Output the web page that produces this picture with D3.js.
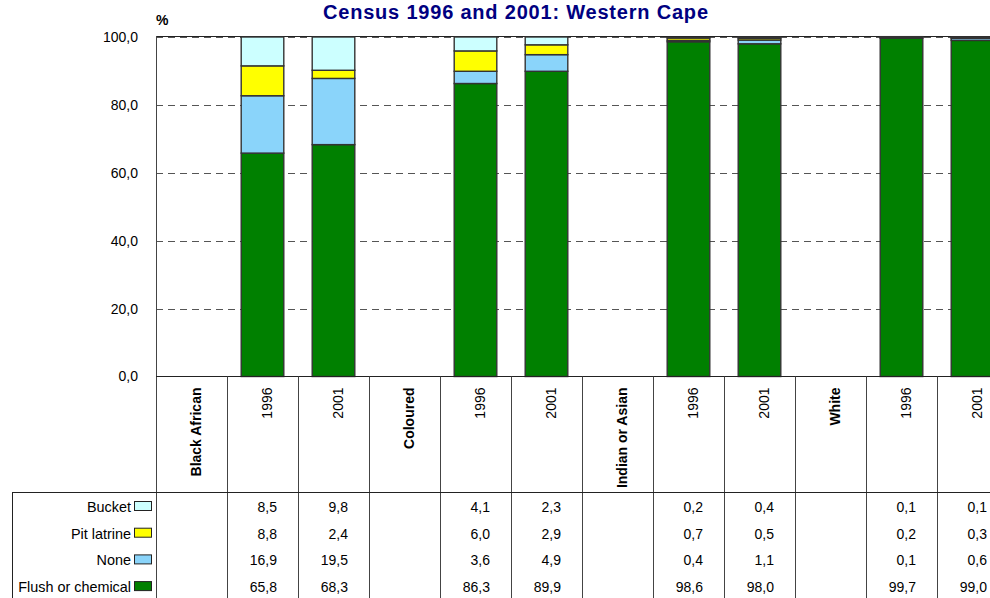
<!DOCTYPE html>
<html>
<head>
<meta charset="utf-8">
<script src="https://cdn.jsdelivr.net/npm/d3@7"></script>
<style>
  html, body { margin: 0; padding: 0; background: #fff; overflow: hidden; }
  svg { display: block; font-family: "Liberation Sans", Arial, sans-serif; }
</style>
</head>
<body>
<svg id="chart" width="990" height="598"></svg>
<script>
// ---- data ----
const categories = ["Black African", "1996", "2001", "Coloured", "1996", "2001",
                    "Indian or Asian", "1996", "2001", "White", "1996", "2001"];
const groupColumn = [true, false, false, true, false, false, true, false, false, true, false, false];
const seriesNames = ["Bucket", "Pit latrine", "None", "Flush or chemical"];
const seriesKeys = ["bucket", "pit", "none", "flush"];
const seriesColors = ["#CCFFFF", "#FFFF00", "#8AD4FA", "#008000"];
const bucket = [null, 8.5, 9.8, null, 4.1, 2.3, null, 0.2, 0.4, null, 0.1, 0.1];
const pit    = [null, 8.8, 2.4, null, 6.0, 2.9, null, 0.7, 0.5, null, 0.2, 0.3];
const none   = [null, 16.9, 19.5, null, 3.6, 4.9, null, 0.4, 1.1, null, 0.1, 0.6];
const flush  = [null, 65.8, 68.3, null, 86.3, 89.9, null, 98.6, 98.0, null, 99.7, 99.0];
const yTicks = [0, 20, 40, 60, 80, 100];
const title = "Census 1996 and 2001: Western Cape";

const valuesByKey = { bucket, pit, none, flush };

// ---- layout ----
const svg = d3.select("#chart");
const plotLeft = 156, colW = 71;
const plotTop = 37, plotBottom = 376.5;
const tableTop = 492;
const rowBaseline0 = 512, rowPitch = 26.7;
const fmt = v => d3.format(".1f")(v).replace(".", ",");

const idx = d3.range(categories.length);
const x = d3.scaleBand().domain(idx).range([plotLeft, plotLeft + colW * categories.length]).padding(0);
const y = d3.scaleLinear().domain([0, 100]).range([plotBottom, plotTop]);
const barW = x.bandwidth() * 0.6;

// title
svg.append("text")
  .attr("x", 515.5).attr("y", 18.5)
  .attr("text-anchor", "middle")
  .attr("font-size", "20px").attr("font-weight", "bold")
  .attr("fill", "#000080")
  .attr("textLength", 385).attr("lengthAdjust", "spacing")
  .text(title);

// % label
svg.append("text")
  .attr("x", 156).attr("y", 24.5)
  .attr("font-size", "14px").attr("font-weight", "bold")
  .text("%");

// gridlines
svg.append("g").selectAll("line")
  .data(yTicks.filter(t => t > 0))
  .join("line")
  .attr("x1", plotLeft).attr("x2", 990)
  .attr("y1", d => Math.round(y(d)) + 0.5).attr("y2", d => Math.round(y(d)) + 0.5)
  .attr("stroke", "#555").attr("stroke-width", 1)
  .attr("stroke-dasharray", "7,5");

// top border of plot area
svg.append("line")
  .attr("x1", plotLeft).attr("x2", 990)
  .attr("y1", plotTop - 0.5).attr("y2", plotTop - 0.5)
  .attr("stroke", "#222").attr("stroke-width", 1);

// y axis
const yAxis = svg.append("g")
  .attr("transform", `translate(${plotLeft},0)`)
  .call(d3.axisLeft(y).tickValues(yTicks).tickSize(0).tickPadding(18).tickFormat(fmt));
yAxis.select(".domain").remove();
yAxis.selectAll("text")
  .attr("font-size", "14px")
  .attr("font-family", '"Liberation Sans", Arial, sans-serif')
  .attr("fill", "#000");

// stacked bars
const rows = idx.map(i => {
  const r = { i };
  seriesKeys.forEach(k => r[k] = valuesByKey[k][i] == null ? 0 : valuesByKey[k][i]);
  return r;
});
const stackOrder = ["flush", "none", "pit", "bucket"];
const stacked = d3.stack().keys(stackOrder)(rows);
const colorOf = k => seriesColors[seriesKeys.indexOf(k)];

const barsG = svg.append("g");
stacked.forEach(layer => {
  barsG.append("g")
    .selectAll("rect")
    .data(layer.filter(d => !groupColumn[d.data.i]))
    .join("rect")
    .attr("x", d => x(d.data.i) + (x.bandwidth() - barW) / 2)
    .attr("width", barW)
    .attr("y", d => y(d[1]))
    .attr("height", d => Math.max(0, y(d[0]) - y(d[1])))
    .attr("fill", colorOf(layer.key))
    .attr("stroke", "#333")
    .attr("stroke-width", 1.4);
});

// left border of plot + bottom axis line
svg.append("line")
  .attr("x1", plotLeft + 0.5).attr("x2", plotLeft + 0.5)
  .attr("y1", plotTop - 1).attr("y2", 598)
  .attr("stroke", "#444").attr("stroke-width", 1);
svg.append("line")
  .attr("x1", plotLeft).attr("x2", 990)
  .attr("y1", plotBottom).attr("y2", plotBottom)
  .attr("stroke", "#222").attr("stroke-width", 1.2);

// table: vertical column lines
svg.append("g").selectAll("line")
  .data(d3.range(1, categories.length + 1))
  .join("line")
  .attr("x1", d => plotLeft + colW * d + 0.5).attr("x2", d => plotLeft + colW * d + 0.5)
  .attr("y1", plotBottom).attr("y2", 598)
  .attr("stroke", "#444").attr("stroke-width", 1);

// table top and left border
svg.append("line")
  .attr("x1", 12.5).attr("x2", 990)
  .attr("y1", tableTop + 0.5).attr("y2", tableTop + 0.5)
  .attr("stroke", "#222").attr("stroke-width", 1);
svg.append("line")
  .attr("x1", 12.5).attr("x2", 12.5)
  .attr("y1", tableTop).attr("y2", 598)
  .attr("stroke", "#222").attr("stroke-width", 1);

// column labels (rotated)
svg.append("g").selectAll("text")
  .data(idx)
  .join("text")
  .attr("transform", i => `translate(${x(i) + x.bandwidth() / 2 + 9},387.5) rotate(-90)`)
  .attr("text-anchor", "end")
  .attr("font-size", "14px")
  .attr("font-weight", i => groupColumn[i] ? "bold" : "normal")
  .text(i => categories[i]);

// legend rows
const legendG = svg.append("g");
seriesNames.forEach((name, r) => {
  const by = rowBaseline0 + r * rowPitch;
  legendG.append("text")
    .attr("x", 131).attr("y", by)
    .attr("text-anchor", "end")
    .attr("font-size", "14.4px")
    .text(name);
  legendG.append("rect")
    .attr("x", 134.5).attr("y", by - 10.5)
    .attr("width", 17).attr("height", 9)
    .attr("fill", seriesColors[r])
    .attr("stroke", "#222").attr("stroke-width", 1);
  // values
  const vals = valuesByKey[seriesKeys[r]];
  legendG.append("g").selectAll("text")
    .data(idx.filter(i => vals[i] != null))
    .join("text")
    .attr("x", i => x(i) + x.bandwidth() - 21)
    .attr("y", by)
    .attr("text-anchor", "end")
    .attr("font-size", "14px")
    .text(i => fmt(vals[i]));
});
</script>
</body>
</html>
